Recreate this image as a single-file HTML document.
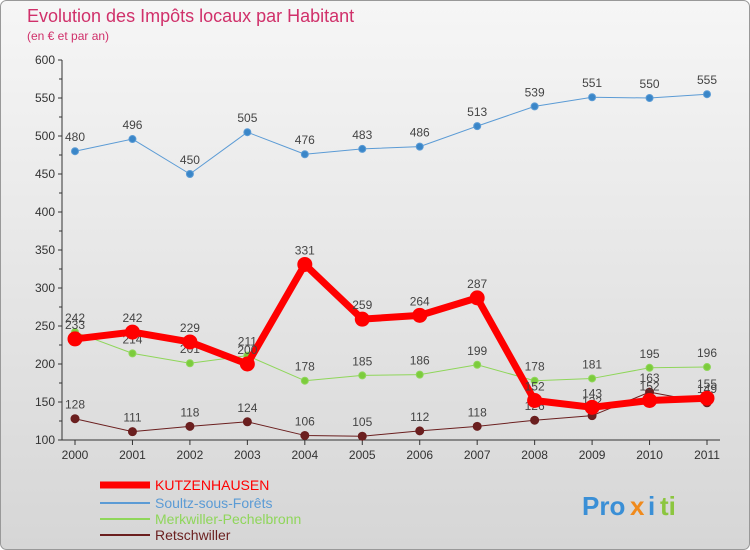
<!DOCTYPE html>
<html><head><meta charset="utf-8"><style>
body{margin:0;width:750px;height:550px;overflow:hidden;font-family:"Liberation Sans",sans-serif}
#c{position:absolute;left:0;top:0}
</style></head><body>
<svg id="c" width="750" height="550">
<defs><linearGradient id="bg" x1="0" y1="0" x2="0" y2="1"><stop offset="0" stop-color="#f6f6f6"/><stop offset="1" stop-color="#d6d6d6"/></linearGradient></defs>
<rect x="0.5" y="0.5" width="749" height="549" rx="6" fill="url(#bg)" stroke="#999"/>
<text x="27" y="22" font-size="18" fill="#d0306a">Evolution des Impôts locaux par Habitant</text>
<text x="27" y="40" font-size="12" fill="#d0306a">(en € et par an)</text>
<g id="axes"></g><g id="series"></g><g id="legend"></g>
<g font-size="26" font-weight="bold">
<text x="582" y="515" fill="#3a8fd6">Pro</text><text x="630" y="515" fill="#f08a1c">x</text><text x="648" y="515" fill="#3a8fd6">i</text><text x="660" y="515" fill="#8cc63f">ti</text>
</g>
</svg>
<script>
const years=['2000','2001','2002','2003','2004','2005','2006','2007','2008','2009','2010','2011'];
const yTicks=[100,150,200,250,300,350,400,450,500,550,600];
const kutz=[233,242,229,200,331,259,264,287,152,143,152,155];
const soultz=[480,496,450,505,476,483,486,513,539,551,550,555];
const merk=[242,214,201,211,178,185,186,199,178,181,195,196];
const retsch=[128,111,118,124,106,105,112,118,126,132,163,149];
const NS='http://www.w3.org/2000/svg';
const X=i=>75+i*(707-75)/11, Y=v=>440-(v-100)*0.76;
function mk(t,a,p){const e=document.createElementNS(NS,t);for(const k in a)e.setAttribute(k,a[k]);p.appendChild(e);return e;}
const ax=document.getElementById('axes');
const yl=mk('line',{x1:62,y1:60,x2:62,y2:440,stroke:'#333'},ax);


const xl=mk('line',{x1:62,y1:440,x2:720,y2:440,stroke:'#333'},ax);


yTicks.forEach(v=>{
 mk('line',{x1:58,y1:Y(v),x2:62,y2:Y(v),stroke:'#333'},ax);
 if(v<600)mk('line',{x1:59,y1:Y(v+25),x2:62,y2:Y(v+25),stroke:'#333'},ax);
 const t=mk('text',{x:55,y:Y(v)+4,'text-anchor':'end','font-size':12,fill:'#333'},ax);t.textContent=v;
 
 
});
years.forEach((y,i)=>{
 mk('line',{x1:X(i),y1:440,x2:X(i),y2:445,stroke:'#333'},ax);
 const t=mk('text',{x:X(i),y:459,'text-anchor':'middle','font-size':12,fill:'#333'},ax);t.textContent=y;
 
 
});
const sg=document.getElementById('series');
function draw(d,col,w,r,name,dot){
 const g=mk('g',{},sg);
 
 
 mk('polyline',{points:d.map((v,i)=>X(i)+','+Y(v)).join(' '),fill:'none',stroke:col,'stroke-width':w,'stroke-linejoin':'round'},g);
 d.forEach((v,i)=>{
  const c=mk('circle',{cx:X(i),cy:Y(v),r:r,fill:dot,stroke:col,'stroke-width':1},g);
  
  
  const t=mk('text',{x:X(i),y:Y(v)-10,'text-anchor':'middle','font-size':12,fill:'#444'},g);t.textContent=v;
  
  
 });
}
draw(retsch,'#6b1f1f',1,4,'retschwiller-series','#6b1f1f');
draw(soultz,'#5b9bd5',1,3.5,'soultz-series','#3a86c8');
draw(merk,'#8fd65a',1,3.5,'merkwiller-series','#7ccc3c');
draw(kutz,'#ff0000',7,7,'kutzenhausen-series','#ff0000');
const lg=document.getElementById('legend');
[['KUTZENHAUSEN','#ff0000',7,490],['Soultz-sous-Forêts','#5b9bd5',2,508],['Merkwiller-Pechelbronn','#8fd65a',2,524],['Retschwiller','#6b1f1f',2,540]].forEach(([n,c,w,y])=>{
 const g=mk('g',{},lg);
 
 
 mk('line',{x1:100,y1:y-5,x2:150,y2:y-5,stroke:c,'stroke-width':w},g);
 const t=mk('text',{x:155,y:y,'font-size':14,fill:c},g);t.textContent=n;
});
</script>
</body></html>
